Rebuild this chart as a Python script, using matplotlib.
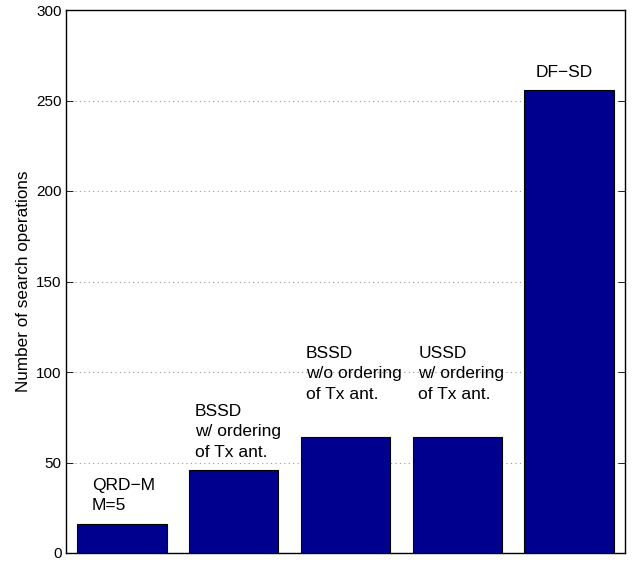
import matplotlib
matplotlib.use("Agg")
import matplotlib.pyplot as plt

plt.rcParams['font.family'] = ['Liberation Sans', 'DejaVu Sans']

# Search operation counts per detector
detectors = ["QRD-M", "BSSD w/", "BSSD w/o", "USSD", "DF-SD"]
operations = [16, 46, 64, 64, 256]
bar_labels = [
    "QRD\u2212M\nM=5",
    "BSSD\nw/ ordering\nof Tx ant.",
    "BSSD\nw/o ordering\nof Tx ant.",
    "USSD\nw/ ordering\nof Tx ant.",
    "DF\u2212SD",
]
yticks = [0, 50, 100, 150, 200, 250, 300]

fig = plt.figure(figsize=(6.42, 5.65), dpi=100)
ax = fig.add_axes([66 / 642, 1 - 553 / 565, (625 - 66) / 642, (553 - 10) / 565])

x = list(range(1, len(operations) + 1))
ax.bar(x, operations, width=0.8, color="#00008F", edgecolor="black",
       linewidth=0.8, zorder=3)

# Label each bar: left-aligned just inside the bar, block centered above it
offsets = [0.232, 0.152, 0.143, 0.152, 0.205]
centers = [31.8, 66.9, 98.9, 98.9, 265.7]
for xi, off, cy, lab in zip(x, offsets, centers, bar_labels):
    ax.text(xi - 0.5 + off, cy, lab, ha="left", va="center", fontsize=12.5,
            linespacing=1.45, zorder=4)

ax.set_xlim(0.5, 5.5)
ax.set_ylim(0, 300)
ax.set_xticks([])
ax.set_yticks(yticks)
ax.tick_params(axis="y", direction="in", left=True, right=True, length=5,
               labelsize=11, width=0.6, pad=3)
ax.yaxis.grid(True, linestyle=(0, (1, 3)), color="#999999", linewidth=0.8,
              zorder=0)
ax.set_axisbelow(True)
for s in ax.spines.values():
    s.set_linewidth(1.0)
    s.set_color("black")
ax.set_ylabel("Number of search operations", fontsize=12.3, labelpad=4)

fig.savefig("out.png", dpi=100)
